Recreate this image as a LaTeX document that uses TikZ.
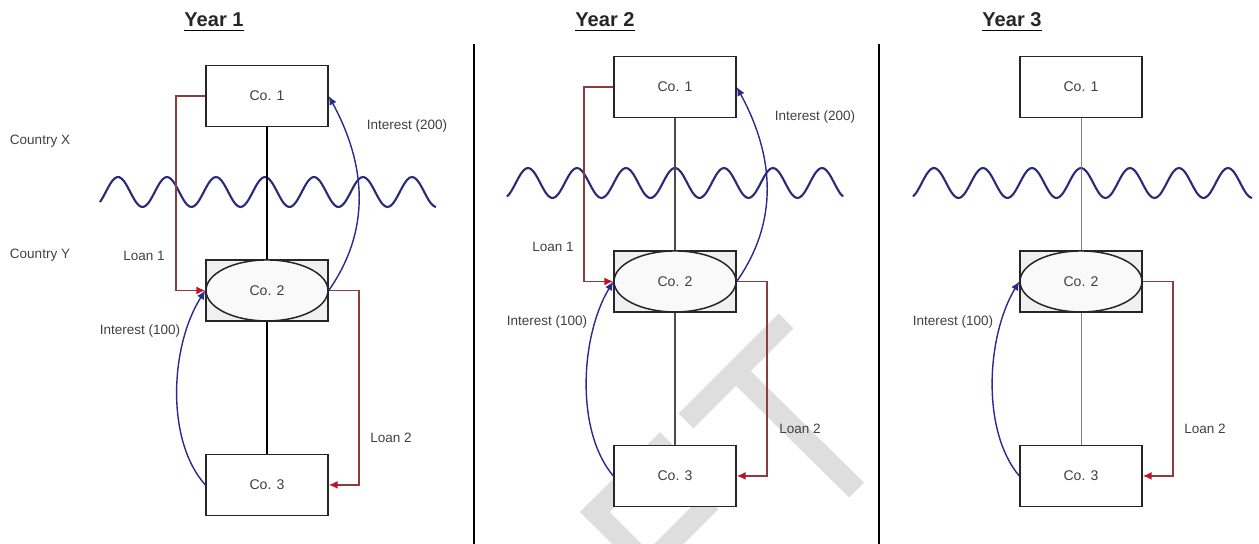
\documentclass[tikz,border=0pt]{standalone}
\usepackage{fontspec}
\setmainfont{Liberation Sans}
\usetikzlibrary{positioning,arrows.meta,shapes.geometric}
\definecolor{inkgray}{HTML}{404040}
\definecolor{loanred}{HTML}{8E3B3B}
\definecolor{tipred}{HTML}{C0102A}
\definecolor{intblue}{HTML}{2B2B8F}
\definecolor{wavenavy}{HTML}{2A2A78}
\definecolor{markgray}{HTML}{DEDEDE}

\tikzset{
  cobox/.style={rectangle, draw=black!85, line width=0.85pt, fill=white, minimum width=2.44cm, minimum height=1.22cm, inner sep=0pt, font=\fontsize{8}{9}\selectfont, text=inkgray},
  cohub/.style={cobox, fill=gray!12},
  coring/.style={ellipse, draw=black!85, line width=0.85pt, fill=gray!5, minimum width=2.44cm, minimum height=1.22cm, inner sep=0pt, font=\fontsize{8}{9}\selectfont, text=inkgray},
  tie/.style={draw=black, line width=0.9pt},
  loan/.style={draw=loanred, line width=0.9pt, -{Latex[length=5pt,width=4.5pt,color=tipred]}},
  interest/.style={draw=intblue, line width=0.8pt, -{Latex[length=5pt,width=4.5pt]}},
  border/.style={draw=wavenavy, line width=1.2pt},
  divider/.style={draw=black, line width=0.9pt},
  lbl/.style={font=\fontsize{7.7}{9}\selectfont, text=inkgray, inner sep=0pt},
  yearlbl/.style={font=\fontsize{11.4}{13}\selectfont\bfseries, text=black!85, inner sep=0pt, anchor=base},
}

\begin{document}
\begin{tikzpicture}[x=0.02cm, y=-0.02cm]
    \useasboundingbox (0,0) rectangle (1259,544);

    % Watermark
    \begin{scope}
    \clip (0,0) rectangle (1259,544);
    \fill[markgray] (580,512) -- (659.9,432.1) -- (674.7,446.9) -- (594.8,526.8) -- cycle;
    \fill[markgray] (580,512) -- (594.8,497.2) -- (722.1,624.5) -- (707.3,639.3) -- cycle;
    \fill[markgray] (633,565) -- (703.7,494.3) -- (718.6,509.1) -- (647.8,579.8) -- cycle;
    \fill[markgray] (678.6,413.6) -- (778.6,313.6) -- (793.4,328.4) -- (693.4,428.4) -- cycle;
    \fill[markgray] (736,385.8) -- (750.8,371) -- (863.9,482.6) -- (849.1,497.4) -- cycle;
    \end{scope}

    % Dividers
    \draw[divider] (474,44) -- (474,544);
    \draw[divider] (879,44) -- (879,544);

    % Year 1
    \node[yearlbl] (yr1) at (214,27) {Year 1};
    \draw[line width=1.1pt] ([yshift=-2pt]yr1.base west) -- ([yshift=-2pt]yr1.base east);
    \node[lbl] (cx) at (40,141) {Country X};
    \node[lbl] (cy) at (40,255) {Country Y};
    \draw[border] plot[domain=100:436, samples=140, smooth] (\x, {192-15*cos(7.3469*(\x-118))});
    \node[cobox] (co1a) at (267,96) {Co. 1};
    \node[cohub, below=2.64cm of co1a] (co2a) {};
    \node[coring] (ringa) at (co2a.center) {Co. 2};
    \node[cobox, below=2.64cm of co2a] (co3a) {Co. 3};
    \draw[tie] (co1a) -- (co2a);
    \draw[tie] (co2a) -- (co3a);
    \draw[loan] (co1a.west) -- ++(-29,0) |- (co2a.west);
    \draw[loan] (co2a.east) -- ++(30,0) |- (co3a.east);
    \draw[interest] (co2a.east) .. controls +(42,-60) and +(38,70) .. (co1a.east);
    \draw[interest] (co3a.west) .. controls +(-40,-45) and +(-35,55) .. (co2a.west);
    \node[lbl] (l1a) at (144,256) {Loan 1};
    \node[lbl] (i2a) at (407,126) {Interest (200)};
    \node[lbl] (i1a) at (140,331) {Interest (100)};
    \node[lbl] (l2a) at (391,438) {Loan 2};

    % Year 2
    \node[yearlbl] (yr2) at (605,27) {Year 2};
    \draw[line width=1.1pt] ([yshift=-2pt]yr2.base west) -- ([yshift=-2pt]yr2.base east);
    \draw[border] plot[domain=507:843, samples=140, smooth] (\x, {183-15*cos(7.3469*(\x-675))});
    \node[cobox] (co1b) at (675,87) {Co. 1};
    \node[cohub, below=2.64cm of co1b] (co2b) {};
    \node[coring] (ringb) at (co2b.center) {Co. 2};
    \node[cobox, below=2.64cm of co2b] (co3b) {Co. 3};
    \draw[tie, draw=black!70] (co1b) -- (co2b);
    \draw[tie, draw=black!70] (co2b) -- (co3b);
    \draw[loan] (co1b.west) -- ++(-29,0) |- (co2b.west);
    \draw[loan] (co2b.east) -- ++(30,0) |- (co3b.east);
    \draw[interest] (co2b.east) .. controls +(42,-60) and +(38,70) .. (co1b.east);
    \draw[interest] (co3b.west) .. controls +(-38,-45) and +(-33,55) .. (co2b.west);
    \node[lbl] (l1b) at (553,247) {Loan 1};
    \node[lbl] (i2b) at (815,117) {Interest (200)};
    \node[lbl] (i1b) at (547,322) {Interest (100)};
    \node[lbl] (l2b) at (800,429) {Loan 2};

    % Year 3
    \node[yearlbl] (yr3) at (1012,27) {Year 3};
    \draw[line width=1.1pt] ([yshift=-2pt]yr3.base west) -- ([yshift=-2pt]yr3.base east);
    \draw[border] plot[domain=913:1252, samples=140, smooth] (\x, {183-15*cos(7.3469*(\x-1081))});
    \node[cobox] (co1c) at (1081,87) {Co. 1};
    \node[cohub, below=2.64cm of co1c] (co2c) {};
    \node[coring] (ringc) at (co2c.center) {Co. 2};
    \node[cobox, below=2.64cm of co2c] (co3c) {Co. 3};
    \draw[tie, draw=gray, line width=0.5pt] (co1c) -- (co2c);
    \draw[tie, draw=gray, line width=0.5pt] (co2c) -- (co3c);
    \draw[loan] (co2c.east) -- ++(30,0) |- (co3c.east);
    \draw[interest] (co3c.west) .. controls +(-38,-45) and +(-33,55) .. (co2c.west);
    \node[lbl] (i1c) at (953,322) {Interest (100)};
    \node[lbl] (l2c) at (1205,429) {Loan 2};
\end{tikzpicture}
\end{document}
